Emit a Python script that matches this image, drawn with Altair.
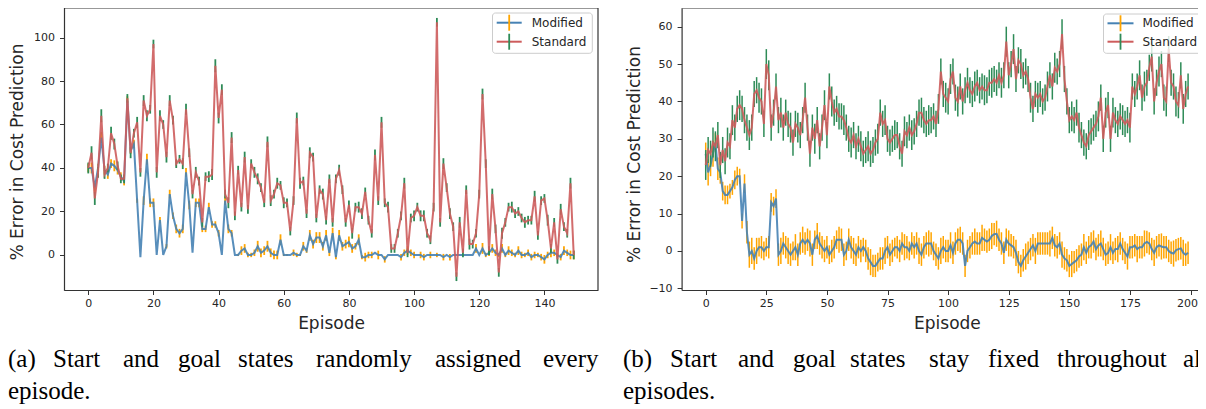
import altair as alt
import pandas as pd

# ---------------- data ----------------
# Panel (a): 150 episodes
a_mod = [40, 40, 31, 40, 54, 39, 37, 42, 41, 39, 36, 34, 71, 48, 51, 25, -1, 25, 44, 24,
         24, 0, 16, 0, 4, 28, 18, 12, 10, 12, 38, 23, 1, 24, 24, 12, 12, 22, 14, 14,
         10, 0, 25, 12, 10, 0, 0, 2, 3, 0, 0, 1, 4, 1, 2, 4, 1, 0, 0, 7,
         0, 0, 0, 1, 0, 0, 4, 2, 9, 5, 8, 8, 4, 9, 1, 10, -1, 9, 4, 5,
         6, 3, 4, 7, -1, -1, 0, 0, 1, 0, 0, -2, 0, 0, 0, 0, -1, 1, 2, 1,
         0, 0, 0, -1, 0, 0, 0, 0, 0, -1, 0, -1, 0, 0, 0, 0, 0, 0, 0, 3,
         0, 3, 0, 1, 3, 1, 0, 3, 0, 2, 1, 0, 2, 0, 0, 1, -1, 0, 0, -1,
         -2, 0, 1, 1, 0, -1, 2, 1, 0, 0]
a_mod_err = [2, 2.5, 2, 2, 2.5, 2, 2, 2, 2.5, 2, 2, 2, 2, 1.5, 2, 1, 0, 2, 2.5, 2,
             2, 0, 1.5, 0, 1, 2, 1.5, 2, 2, 2, 2, 2, 0, 2, 2, 1.5, 1.5, 2, 1.5, 1.5,
             1.5, 0, 2, 2, 1.5, 0, 0.5, 2, 2, 1, 1, 1.5, 2.5, 2, 2, 2.5, 2, 2, 2, 2.5,
             0.5, 0.5, 0, 1.5, 1, 0.5, 2, 1, 2.5, 2, 2.5, 2.5, 2, 2.5, 1.5, 2.5, 1, 2.5, 2, 2,
             2.5, 2, 1.5, 2.5, 1, 2, 1.5, 1.5, 0, 2, 0, 1.5, 0, 0, 0, 0, 1.5, 1.5, 2, 1.5,
             1.5, 0, 1.5, 1.5, 0, 1.5, 0, 1, 0, 1.5, 0, 1.5, 0, 0, 0, 0, 0, 0, 0, 2,
             0, 2.5, 1, 1.5, 2, 1.5, 1, 2, 1, 2, 1.5, 1, 2, 1.5, 1, 1.5, 1.5, 1.5, 1, 1.5,
             2, 1.5, 2, 1.5, 1, 1.5, 2, 1.5, 2, 2]
a_std = [40, 47, 26, 38, 64, 37, 40, 56, 51, 41, 35, 35, 72, 47, 56, 61, 38, 71, 64, 67,
         97, 38, 64, 60, 45, 71, 62, 42, 44, 42, 67, 47, 28, 38, 34, 15, 36, 36, 37, 87,
         63, 76, 28, 24, 54, 18, 39, 22, 45, 21, 42, 38, 35, 31, 24, 52, 25, 28, 33, 32,
         24, 24, 11, 25, 63, 33, 34, 19, 47, 45, 17, 30, 28, 16, 35, 15, 35, 39, 30, 15,
         23, 10, 22, 22, 19, 29, 16, 10, 46, 25, 61, 24, 22, 3, 3, 10, 18, 33, 1, 17,
         18, 22, 18, 18, 10, 7, 22, 107, 15, 42, 31, 19, 13, -10, 15, 1, 30, 5, 5, 10,
         28, 74, 42, 2, 28, 12, -8, 10, 15, 22, 22, 19, 20, 17, 15, 16, 16, 27, 9, 25,
         26, 16, 3, 15, -2, 21, 13, 10, 33, 0]
a_std_err = [2.5, 3, 3, 2.5, 3, 2, 2, 3, 2.5, 2, 2, 2, 2, 2.5, 2, 2.5, 2, 2.5, 2.5, 2,
             2, 2.5, 2.5, 2, 2.5, 2.5, 2, 2, 2, 2.5, 2.5, 2, 2, 2.5, 2, 2, 2, 2.5, 2.5, 3,
             2.5, 2.5, 2, 2.5, 2.5, 2, 2, 2, 2.5, 2, 2, 2.5, 2.5, 2, 2, 2.5, 2.5, 2, 2.5, 2,
             2.5, 2, 2, 2, 2.5, 2.5, 2, 2, 2.5, 2, 2, 2, 2.5, 2, 2, 2, 2, 2.5, 2, 2,
             2, 2.5, 2, 2.5, 2.5, 2, 2, 2, 2.5, 2, 2.5, 2, 2.5, 2, 2, 2, 2, 2.5, 2, 2,
             2.5, 2, 2.5, 2.5, 2, 2, 2, 2, 2, 2.5, 2, 2.5, 2, 2, 2.5, 2, 2, 2.5, 2, 2,
             2, 2.5, 2, 2, 2.5, 2, 2, 2.5, 2, 2, 2.5, 2, 2, 2, 2.5, 2, 2, 2.5, 2, 2,
             2, 2.5, 2, 2, 2, 2.5, 2, 2, 2.5, 2]

# Panel (b): 200 episodes
b_mod = [26, 21, 23, 26, 29, 22, 21, 16, 15, 15, 16, 17, 19, 20, 20, 8, 18, 5, -1, 0,
         -2, 0, 1, 1, 0, 1, 1, 13, 12, 14, -1, 0, 2, 1, 0, -1, 0, 1, -1, 2,
         3, 2, 3, 2, -1, 3, 4, 2, 1, 0, 1, -1, 0, 1, 3, 3, 3, -1, 0, 3,
         1, 0, -1, 1, 0, 1, 0, -2, -3, -4, -4, -3, -2, -2, 0, 1, -1, 0, 1, 1,
         0, 2, 1, 1, 0, 2, 1, 2, 0, -1, 1, 2, 2, 2, 0, -1, -2, 0, 1, 0,
         0, 1.5, -0.5, 2, 3, 3, 2, -4, 0, 1, 2, 2.5, 2, 2, 3.5, 3, 2.5, 3, 4, 4.5,
         4.6, 3, 2, -0.5, 3, 2, 1.5, 1, -0.5, -3, -4, -2.5, -1.5, -0.5, 0.5, 1.5, 0, 2, 2, 2,
         2, 2, 2, 3.5, 1.5, 1, 2, -1, -2, -2.5, -4, -3.5, -3, -2.5, -1.5, -1, 1, -0.5, 1, 1.5,
         2.5, 0.5, 1.5, 2, 0.5, -1, -0.5, 1, -0.5, 0.5, 0.5, 2, 0.5, -0.5, -1.5, 1, 1, 1.5, 0.5, 1,
         1, 2, 2.4, 2, 0.5, -0.5, 1, 1.5, 1.2, 1, 1, 0, -0.5, -0.7, 0.2, 0.5, 0.7, -0.5, -1, -0.5]
b_mod_err = [3, 3.5, 3, 3.5, 2.5, 3, 3, 2.5, 2.5, 2.5, 2, 2, 2.5, 2.5, 2, 2, 2.5, 3, 3.5, 3.5,
             3, 3.5, 2.5, 3, 2.5, 2.5, 3, 2.5, 2.5, 2.5, 3, 3.5, 3, 3, 3.5, 3, 2.5, 3.5, 3, 3,
             3.5, 3, 3, 3.5, 3, 2.5, 3.5, 3, 3, 3, 3, 2.5, 3, 3, 2.5, 3.5, 3, 3, 2.5, 3,
             3, 3.5, 3, 3, 3, 2.5, 3, 3, 3.5, 3, 3, 2.5, 3, 3, 3.5, 3, 3, 3, 2.5, 3,
             3, 3, 3.5, 3, 2.5, 3, 3, 3, 3.5, 3, 3, 3, 3.5, 3, 2.5, 3, 3, 3.5, 3, 3,
             3, 3.5, 3, 3, 3, 3.5, 3, 3, 3, 3, 3, 3.5, 3, 3, 3.5, 3, 3, 3, 3.5, 3,
             3.5, 3, 3, 3, 3, 3.5, 3, 3, 3.5, 3, 3, 3, 3.5, 3, 3, 3, 3.5, 3, 3, 3,
             3, 3, 3.5, 3, 3, 3, 3, 3.5, 3, 3, 3, 3.5, 3, 3, 3, 3, 3.5, 3, 3, 3.5,
             3, 3, 3, 3.5, 3, 3, 3, 3.5, 3, 3, 3.5, 3, 3, 3, 3.5, 3, 3, 3, 3.5, 3,
             3, 3.5, 3, 3, 3, 3.5, 3, 3, 3.5, 3, 3, 3, 3, 3.5, 3, 3, 3, 3.5, 3, 3]
b_std = [23, 27, 26, 29, 28, 31, 23, 27, 24, 29, 28, 35, 33, 38, 39, 38, 35, 33, 31, 33,
         42, 43, 41, 40, 34, 50, 47, 33, 37, 44, 35, 37, 33, 37, 34, 33, 29, 34, 33, 31,
         35, 41, 33, 26, 33, 30, 35, 28, 33, 39, 31, 44, 40, 37, 38, 36, 36, 35, 33, 30,
         29, 31, 28, 30, 28, 26, 27, 28, 26, 27, 29, 30, 37, 34, 35, 30, 29, 30, 31, 31,
         28, 26, 32, 31, 33, 31, 32, 34, 37, 37, 35, 34, 35, 35, 36, 34, 38, 48, 42, 41,
         40, 46, 48, 41, 40, 44, 40, 43, 45, 43, 42, 44, 45, 43, 44, 43, 43, 45, 45, 46,
         45, 47, 45, 47, 56, 47, 50, 54, 46, 51, 50, 47, 48, 46, 41, 38, 42, 41, 42, 40,
         41, 44, 47, 44, 49, 48, 50, 58, 46, 40, 35, 36, 35, 37, 33, 31, 29, 28, 31, 32,
         33, 34, 36, 41, 30, 37, 39, 30, 37, 35, 34, 36, 35, 34, 35, 33, 44, 42, 44, 47,
         41, 44, 45, 49, 52, 40, 45, 48, 50, 41, 40, 54, 45, 44, 40, 39, 47, 38, 42, 44]
b_std_err = [4, 3.5, 3.5, 4, 4, 3.5, 3.5, 3.5, 3.5, 4, 3.5, 4, 3.5, 3.5, 4, 3.5, 3.5, 3.5, 4, 3.5,
             3.5, 3.5, 4, 3.5, 3.5, 4, 4, 3.5, 3.5, 3.5, 3.5, 4, 3.5, 3.5, 3.5, 4, 3.5, 3.5, 4, 3.5,
             3.5, 4, 3.5, 3.5, 3.5, 4, 3.5, 3.5, 3.5, 4, 3.5, 3.5, 4, 3.5, 3.5, 3.5, 3.5, 4, 3.5, 3.5,
             4, 3.5, 3.5, 3.5, 4, 3.5, 3.5, 4, 3.5, 3.5, 3.5, 4, 3.5, 3.5, 4, 3.5, 3.5, 3.5, 4, 3.5,
             3.5, 3.5, 4, 3.5, 3.5, 4, 3.5, 3.5, 3.5, 4, 3.5, 3.5, 4, 3.5, 3.5, 3.5, 4, 3.5, 3.5, 4,
             3.5, 4, 3.5, 3.5, 4, 3.5, 3.5, 3.5, 4, 3.5, 3.5, 4, 3.5, 3.5, 3.5, 4, 3.5, 3.5, 4, 3.5,
             3.5, 3.5, 4, 3.5, 4, 3.5, 3.5, 4, 3.5, 3.5, 4, 3.5, 3.5, 3.5, 4, 3.5, 3.5, 4, 3.5, 3.5,
             3.5, 4, 3.5, 3.5, 4, 3.5, 3.5, 4, 3.5, 3.5, 3.5, 4, 3.5, 3.5, 4, 3.5, 3.5, 3.5, 4, 3.5,
             3.5, 3.5, 4, 3.5, 3.5, 4, 3.5, 3.5, 4, 3.5, 3.5, 3.5, 4, 3.5, 3.5, 4, 3.5, 3.5, 3.5, 4,
             3.5, 4, 3.5, 3.5, 4, 3.5, 3.5, 4, 3.5, 3.5, 4, 3.5, 3.5, 3.5, 4, 3.5, 3.5, 4, 3.5, 3.5]

series_names = ["Modified", "Standard"]
a_xticks = [0, 20, 40, 60, 80, 100, 120, 140]
a_yticks = [0, 20, 40, 60, 80, 100]
b_xticks = [0, 25, 50, 75, 100, 125, 150, 175, 200]
b_yticks = [-10, 0, 10, 20, 30, 40, 50, 60]
x_title = "Episode"
y_title = "% Error in Cost Prediction"
cap_a_line1 = ["(a)", "Start", "and", "goal", "states", "randomly", "assigned", "every"]
cap_a_line2 = ["episode."]
cap_b_line1 = ["(b)", "Start", "and", "goal", "states", "stay", "fixed", "throughout", "all"]
cap_b_line2 = ["episodes."]

for arr, n in [(a_mod, 150), (a_mod_err, 150), (a_std, 150), (a_std_err, 150),
               (b_mod, 200), (b_mod_err, 200), (b_std, 200), (b_std_err, 200)]:
    assert len(arr) == n, (len(arr), n)

# ---------------- layout / style ----------------
OX, OY = 64, 8          # page position of the plot-group origin
W, H = 1134, 282
FONT = "DejaVu Sans"
SERIF = "Liberation Serif, Times New Roman, Times, serif"
INK = "#262626"
FRAME = "#333333"
C_LINE = {"Modified": "#4682b4", "Standard": "#cd5c5c"}
C_ERR = {"Modified": "#ffa500", "Standard": "#2e8b57"}


def px(x):
    return x - OX


def py(y):
    return y - OY


one = pd.DataFrame({"k": [0]})


def series_df(vals, errs):
    return pd.DataFrame({
        "ep": list(range(len(vals))),
        "val": vals,
        "lo": [v - e for v, e in zip(vals, errs)],
        "hi": [v + e for v, e in zip(vals, errs)],
    })


def axis_common():
    return dict(grid=False, domainColor=FRAME, domainWidth=1.2, tickColor=FRAME,
                tickSize=4.5, tickWidth=1, labelFont=FONT, labelFontSize=11,
                labelColor=INK, titleFont=FONT, titleFontSize=17,
                titleFontWeight="normal", titleColor=INK, labelFlush=False,
                labelOverlap=False)


def panel(mod, mod_err, std, std_err, xdom, xrng, ydom, yrng, xticks, yticks,
          yoffset, ytitle_y, errw, edge_tick=None):
    xs = alt.Scale(domain=xdom, range=xrng, nice=False, zero=False)
    ys = alt.Scale(domain=ydom, range=yrng, nice=False, zero=False)
    extra = {}
    if edge_tick is not None:
        # keep the last tick label inside the page edge
        extra["labelAlign"] = {"condition": {"test": f"datum.value == {edge_tick}",
                                             "value": "right"}, "value": "center"}
        extra["labelOffset"] = {"condition": {"test": f"datum.value == {edge_tick}",
                                              "value": 7}, "value": 0}
    xax = alt.Axis(title=x_title, values=xticks, orient="bottom", labelPadding=3,
                   titleY=33, titleBaseline="middle", format="d", **extra,
                   **axis_common())
    yax = alt.Axis(title=y_title, values=yticks, orient="left", offset=yoffset,
                   labelPadding=5, titleX=-47, titleY=ytitle_y,
                   titleBaseline="middle", titleAngle=270, format="d",
                   **axis_common())
    layers = []
    for name, vals, errs in [("Modified", mod, mod_err), ("Standard", std, std_err)]:
        df = series_df(vals, errs)
        bars = alt.Chart(df).mark_rule(color=C_ERR[name], strokeWidth=errw).encode(
            x=alt.X("ep:Q", scale=xs, axis=xax),
            y=alt.Y("lo:Q", scale=ys, axis=yax),
            y2="hi:Q",
        )
        line = alt.Chart(df).mark_line(color=C_LINE[name], strokeWidth=2,
                                       opacity=0.9).encode(
            x=alt.X("ep:Q", scale=xs, axis=xax),
            y=alt.Y("val:Q", scale=ys, axis=yax),
        )
        layers += [bars, line]
    return alt.layer(*layers)


panel_a = panel(a_mod, a_mod_err, a_std, a_std_err,
                [-7.45, 156.45], [0, 534], [-16.2, 115.0], [282.2, -3.1],
                a_xticks, a_yticks, 0, 143.5, 1.8)
panel_b = panel(b_mod, b_mod_err, b_std, b_std_err,
                [-9.95, 208.95], [617.6, 1148.2], [-10.45, 65.0], [282, 0],
                b_xticks, b_yticks, -617.6, 146, 1.5, edge_tick=200)


def rule(x, y, x2=None, y2=None, color=FRAME, width=1.2):
    enc = dict(x=alt.value(x), y=alt.value(y))
    if x2 is not None:
        enc["x2"] = alt.value(x2)
    if y2 is not None:
        enc["y2"] = alt.value(y2)
    return alt.Chart(one).mark_rule(color=color, strokeWidth=width).encode(**enc)


def text(s, x, y, font, size, align="left", baseline="alphabetic", color=INK):
    return alt.Chart(one).mark_text(font=font, fontSize=size, color=color,
                                    align=align, baseline=baseline).encode(
        x=alt.value(x), y=alt.value(y), text=alt.value(s))


deco = []
# remaining frame edges
deco.append(rule(0, 0, x2=534))
deco.append(rule(534, 0, y2=282))
deco.append(rule(617.6, 0, x2=1148.2))


def legend(bx0, bx1, by0, by1, lx0, lx1, tx, rows):
    out = [alt.Chart(one).mark_rect(fill="white", fillOpacity=0.8, stroke="#cccccc",
                                    strokeWidth=1, cornerRadius=3).encode(
        x=alt.value(px(bx0)), x2=alt.value(px(bx1)),
        y=alt.value(py(by0)), y2=alt.value(py(by1)))]
    for name, yy in zip(series_names, rows):
        out.append(rule(px(lx0), py(yy), x2=px(lx1), color=C_LINE[name], width=2))
        cx = (lx0 + lx1) / 2
        out.append(rule(px(cx), py(yy) - 8, y2=py(yy) + 8, color=C_ERR[name], width=1.8))
        out.append(text(name, px(tx), py(yy), FONT, 12, baseline="middle"))
    return out


deco += legend(492.5, 592.3, 13, 53.3, 496.7, 521.7, 531.7, [22.7, 41.7])
deco += legend(1103.5, 1215, 14, 53.3, 1107.5, 1133.5, 1142.5, [23.3, 41.7])

# captions (justified lines: word left edges in page pixels)
cap_a1_x = [8, 53, 123, 178, 238, 316, 435, 543]
cap_b1_x = [623, 670, 738, 793, 850, 929, 988, 1057, 1183]
BASE1, BASE2 = 367, 399
CAP = 25
for w, x in zip(cap_a_line1, cap_a1_x):
    deco.append(text(w, px(x), py(BASE1), SERIF, CAP, color="#000000"))
for w, x in zip(cap_b_line1, cap_b1_x):
    deco.append(text(w, px(x), py(BASE1), SERIF, CAP, color="#000000"))
deco.append(text(cap_a_line2[0], px(8), py(BASE2), SERIF, CAP, color="#000000"))
deco.append(text(cap_b_line2[0], px(623), py(BASE2), SERIF, CAP, color="#000000"))

chart = alt.layer(panel_a, panel_b, *deco).resolve_scale(
    x="independent", y="independent"
).resolve_axis(x="independent", y="independent").properties(
    width=W, height=H,
    autosize=alt.AutoSizeParams(type="none"),
    padding={"left": OX - 8, "top": 0, "right": 0, "bottom": 119},
).configure_view(stroke=None)

chart.save("out.html", embed_options={"renderer": "svg", "actions": False})
